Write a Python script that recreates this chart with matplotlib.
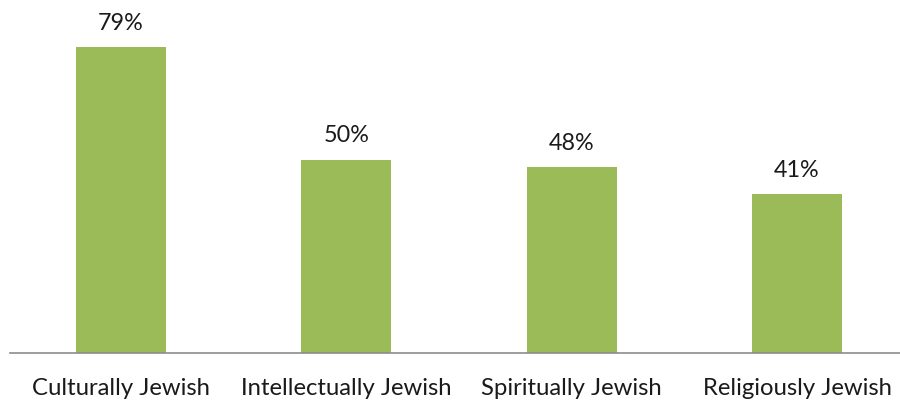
import matplotlib
matplotlib.use("Agg")
import matplotlib.pyplot as plt

categories = ["Culturally Jewish", "Intellectually Jewish", "Spiritually Jewish", "Religiously Jewish"]
values = [79, 50, 48, 41]
value_labels = ["79%", "50%", "48%", "41%"]

plt.rcParams["font.family"] = ["Lato", "DejaVu Sans"]

W, H = 900, 402
fig = plt.figure(figsize=(W / 100, H / 100), dpi=100)
ax = fig.add_axes([10 / W, (H - 354) / H, 890 / W, 349 / H])

x = list(range(len(categories)))
ax.bar(x, values, width=0.4, color="#9BBB59", zorder=2)
for xi, v, lab in zip(x, values, value_labels):
    ax.annotate(lab, (xi, v), xytext=(0, 10.5), textcoords="offset points",
                ha="center", va="bottom", fontsize=16.8, color="#1a1a1a")

ax.set_xlim(-0.4927, 3.457)
ax.set_ylim(0, 90.2)
ax.set_xticks(x)
ax.set_xticklabels(categories, fontsize=17.2, color="#1a1a1a")
ax.tick_params(axis="x", length=0, pad=17.5)
ax.set_yticks([])
for s in ["top", "right", "left"]:
    ax.spines[s].set_visible(False)
ax.spines["bottom"].set_color("#8c8c8c")
ax.spines["bottom"].set_linewidth(1.2)

fig.savefig("out.png", dpi=100)
